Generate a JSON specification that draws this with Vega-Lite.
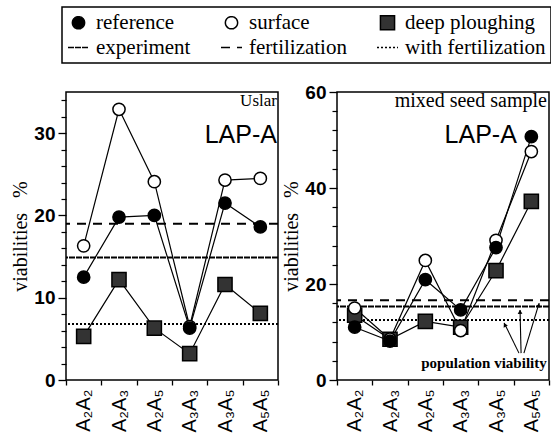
{
  "$schema": "https://vega.github.io/schema/vega-lite/v6.json",
  "autosize": {"type": "pad"},
  "padding": {"left": 10, "top": 6, "right": 0, "bottom": 0},
  "background": "white",
  "bounds": "flush",
  "spacing": 59,
  "config": {
    "font": "Liberation Serif",
    "view": {"stroke": "black", "strokeWidth": 1.5},
    "axis": {"labelColor": "black", "tickColor": "black", "titleColor": "black", "grid": false, "domain": false},
    "legend": {"labelColor": "black", "labelFont": "Liberation Serif", "labelFontSize": 21, "labelOffset": 6, "columnPadding": 27, "rowPadding": 3, "padding": 5, "strokeColor": "black", "symbolStrokeColor": "black"},
    "style": {"guide-label": {"font": "Liberation Serif"}}
  },
  "datasets": {
    "seriesL": [
      {"key": "deep ploughing", "genotype": "A₂A₂", "value": 5.3},
      {"key": "deep ploughing", "genotype": "A₂A₃", "value": 12.2},
      {"key": "deep ploughing", "genotype": "A₂A₅", "value": 6.3},
      {"key": "deep ploughing", "genotype": "A₃A₃", "value": 3.2},
      {"key": "deep ploughing", "genotype": "A₃A₅", "value": 11.6},
      {"key": "deep ploughing", "genotype": "A₅A₅", "value": 8.1},
      {"key": "surface", "genotype": "A₂A₂", "value": 16.3},
      {"key": "surface", "genotype": "A₂A₃", "value": 32.9},
      {"key": "surface", "genotype": "A₂A₅", "value": 24.1},
      {"key": "surface", "genotype": "A₃A₃", "value": 6.5},
      {"key": "surface", "genotype": "A₃A₅", "value": 24.3},
      {"key": "surface", "genotype": "A₅A₅", "value": 24.5},
      {"key": "reference", "genotype": "A₂A₂", "value": 12.5},
      {"key": "reference", "genotype": "A₂A₃", "value": 19.8},
      {"key": "reference", "genotype": "A₂A₅", "value": 20.0},
      {"key": "reference", "genotype": "A₃A₃", "value": 6.3},
      {"key": "reference", "genotype": "A₃A₅", "value": 21.5},
      {"key": "reference", "genotype": "A₅A₅", "value": 18.6}
    ],
    "hlinesL": [
      {"key": "experiment", "value": 14.9},
      {"key": "fertilization", "value": 19.0},
      {"key": "with fertilization", "value": 6.8}
    ],
    "seriesR": [
      {"key": "deep ploughing", "genotype": "A₂A₂", "value": 13.5},
      {"key": "deep ploughing", "genotype": "A₂A₃", "value": 8.5},
      {"key": "deep ploughing", "genotype": "A₂A₅", "value": 12.2},
      {"key": "deep ploughing", "genotype": "A₃A₃", "value": 11.0},
      {"key": "deep ploughing", "genotype": "A₃A₅", "value": 22.8},
      {"key": "deep ploughing", "genotype": "A₅A₅", "value": 37.2},
      {"key": "surface", "genotype": "A₂A₂", "value": 15.0},
      {"key": "surface", "genotype": "A₂A₃", "value": 8.5},
      {"key": "surface", "genotype": "A₂A₅", "value": 24.9},
      {"key": "surface", "genotype": "A₃A₃", "value": 10.3},
      {"key": "surface", "genotype": "A₃A₅", "value": 29.1},
      {"key": "surface", "genotype": "A₅A₅", "value": 47.6},
      {"key": "reference", "genotype": "A₂A₂", "value": 11.0},
      {"key": "reference", "genotype": "A₂A₃", "value": 8.1},
      {"key": "reference", "genotype": "A₂A₅", "value": 20.9},
      {"key": "reference", "genotype": "A₃A₃", "value": 14.6},
      {"key": "reference", "genotype": "A₃A₅", "value": 27.6},
      {"key": "reference", "genotype": "A₅A₅", "value": 50.7}
    ],
    "hlinesR": [
      {"key": "experiment", "value": 15.3},
      {"key": "fertilization", "value": 16.6},
      {"key": "with fertilization", "value": 12.5}
    ]
  },
  "hconcat": [
    {
      "width": 212,
      "height": 288,
      "layer": [
        {
          "data": {"name": "hlinesL"},
          "mark": {"type": "rule", "color": "black", "strokeWidth": 2},
          "encoding": {
            "y": {"field": "value", "type": "quantitative", "scale": {"domain": [0, 35], "nice": false},
              "axis": {"orient": "left", "values": [2,4,6,8,12,14,16,18,22,24,26,28,32,34], "tickSize": 5, "tickWidth": 1.2, "labels": false, "title": null}},
            "strokeDash": {"field": "key", "type": "nominal",
              "scale": {"domain": ["reference", "surface", "deep ploughing", "experiment", "fertilization", "with fertilization"],
                "range": [[1,0],[1,0],[1,0],[6,1],[9,7],[2,2]]},
              "legend": {"orient": "none", "legendX": -4, "legendY": -85, "columns": 3, "direction": "horizontal", "title": null,
                "labelFont": "Liberation Serif",
                "encode": {"legend": {"update": {"strokeWidth": {"value": 1.5}}}, "labels": {"update": {"font": {"value": "Liberation Serif"}}}}}}
          }
        },
        {
          "data": {"name": "seriesL"},
          "mark": {"type": "line", "color": "black", "strokeWidth": 1.2},
          "encoding": {
            "x": {"field": "genotype", "type": "nominal",
              "scale": {"type": "band", "domain": ["A₂A₂","A₂A₃","A₂A₅","A₃A₃","A₃A₅","A₅A₅"], "paddingInner": 0, "paddingOuter": 0},
              "axis": {"orient": "bottom", "tickBand": "extent", "tickSize": 5, "tickWidth": 1.3, "labelAngle": -90, "labelFont": "Liberation Sans", "labelFontSize": 20, "labelPadding": 4, "title": null}},
            "y": {"field": "value", "type": "quantitative", "scale": {"domain": [0, 35], "nice": false},
              "axis": {"orient": "left", "values": [0, 10, 20, 30], "tickSize": 8, "tickWidth": 1.3, "labelFont": "Liberation Sans", "labelFontSize": 19, "labelFontWeight": "bold", "labelPadding": 3,
                "title": "viabilities\u00a0\u00a0\u00a0%", "titleFont": "Liberation Serif", "titleFontSize": 20, "titleFontWeight": "normal", "titlePadding": 3}},
            "detail": {"field": "key", "type": "nominal"}
          }
        },
        {
          "data": {"name": "seriesL"},
          "mark": {"type": "point", "filled": true, "stroke": "black", "strokeWidth": 1.5, "opacity": 1},
          "encoding": {
            "x": {"field": "genotype", "type": "nominal",
              "scale": {"type": "band", "domain": ["A₂A₂","A₂A₃","A₂A₅","A₃A₃","A₃A₅","A₅A₅"], "paddingInner": 0, "paddingOuter": 0},
              "axis": null},
            "y": {"field": "value", "type": "quantitative", "scale": {"domain": [0, 35], "nice": false}, "axis": null},
            "shape": {"field": "key", "type": "nominal",
              "scale": {"domain": ["reference", "surface", "deep ploughing", "experiment", "fertilization", "with fertilization"],
                "range": ["circle", "circle", "square", "M-1,0H1", "M-1,0H1", "M-1,0H1"]},
              "legend": {"labelFont": "Liberation Serif"}},
            "fill": {"field": "key", "type": "nominal",
              "scale": {"domain": ["reference", "surface", "deep ploughing", "experiment", "fertilization", "with fertilization"],
                "range": ["black", "white", "#333333", "transparent", "transparent", "transparent"]},
              "legend": {"labelFont": "Liberation Serif"}},
            "size": {"field": "key", "type": "nominal",
              "scale": {"type": "ordinal", "domain": ["reference", "surface", "deep ploughing", "experiment", "fertilization", "with fertilization"],
                "range": [150, 150, 200, 441, 441, 441]},
              "legend": {"labelFont": "Liberation Serif"}}
          }
        },
        {
          "data": {"values": [{}]},
          "layer": [
            {
              "mark": {"type": "text", "align": "right", "baseline": "alphabetic", "font": "Liberation Serif", "fontSize": 17, "color": "black"},
              "encoding": {
                "x": {"datum": 5.97, "type": "quantitative", "scale": {"domain": [0, 6]}, "axis": null},
                "y": {"datum": 33.3, "type": "quantitative", "scale": {"domain": [0, 35], "nice": false}, "axis": null},
                "text": {"value": "Uslar"}
              }
            },
            {
              "mark": {"type": "text", "align": "right", "baseline": "alphabetic", "font": "Liberation Sans", "fontSize": 25, "color": "black"},
              "encoding": {
                "x": {"datum": 5.97, "type": "quantitative", "scale": {"domain": [0, 6]}, "axis": null},
                "y": {"datum": 28.8, "type": "quantitative", "scale": {"domain": [0, 35], "nice": false}, "axis": null},
                "text": {"value": "LAP-A"}
              }
            }
          ]
        }
      ],
      "resolve": {"scale": {"x": "independent"}, "axis": {"x": "independent", "y": "independent"}}
    },
    {
      "width": 212,
      "height": 288,
      "layer": [
        {
          "data": {"name": "hlinesR"},
          "mark": {"type": "rule", "color": "black", "strokeWidth": 2},
          "encoding": {
            "y": {"field": "value", "type": "quantitative", "scale": {"domain": [0, 60], "nice": false},
              "axis": {"orient": "left", "values": [4,8,12,16,24,28,32,36,44,48,52,56], "tickSize": 5, "tickWidth": 1.2, "labels": false, "title": null}},
            "strokeDash": {"field": "key", "type": "nominal",
              "scale": {"domain": ["reference", "surface", "deep ploughing", "experiment", "fertilization", "with fertilization"],
                "range": [[1,0],[1,0],[1,0],[6,1],[9,7],[2,2]]}}
          }
        },
        {
          "data": {"name": "seriesR"},
          "mark": {"type": "line", "color": "black", "strokeWidth": 1.2},
          "encoding": {
            "x": {"field": "genotype", "type": "nominal",
              "scale": {"type": "band", "domain": ["A₂A₂","A₂A₃","A₂A₅","A₃A₃","A₃A₅","A₅A₅"], "paddingInner": 0, "paddingOuter": 0},
              "axis": {"orient": "bottom", "tickBand": "extent", "tickSize": 5, "tickWidth": 1.3, "labelAngle": -90, "labelFont": "Liberation Sans", "labelFontSize": 20, "labelPadding": 4, "title": null}},
            "y": {"field": "value", "type": "quantitative", "scale": {"domain": [0, 60], "nice": false},
              "axis": {"orient": "left", "values": [0, 20, 40, 60], "tickSize": 8, "tickWidth": 1.3, "labelFont": "Liberation Sans", "labelFontSize": 19, "labelFontWeight": "bold", "labelPadding": 3,
                "title": "viabilities\u00a0\u00a0\u00a0%", "titleFont": "Liberation Serif", "titleFontSize": 20, "titleFontWeight": "normal", "titlePadding": 3}},
            "detail": {"field": "key", "type": "nominal"}
          }
        },
        {
          "data": {"name": "seriesR"},
          "mark": {"type": "point", "filled": true, "stroke": "black", "strokeWidth": 1.5, "opacity": 1},
          "encoding": {
            "x": {"field": "genotype", "type": "nominal",
              "scale": {"type": "band", "domain": ["A₂A₂","A₂A₃","A₂A₅","A₃A₃","A₃A₅","A₅A₅"], "paddingInner": 0, "paddingOuter": 0},
              "axis": null},
            "y": {"field": "value", "type": "quantitative", "scale": {"domain": [0, 60], "nice": false}, "axis": null},
            "shape": {"field": "key", "type": "nominal",
              "scale": {"domain": ["reference", "surface", "deep ploughing", "experiment", "fertilization", "with fertilization"],
                "range": ["circle", "circle", "square", "M-1,0H1", "M-1,0H1", "M-1,0H1"]}},
            "fill": {"field": "key", "type": "nominal",
              "scale": {"domain": ["reference", "surface", "deep ploughing", "experiment", "fertilization", "with fertilization"],
                "range": ["black", "white", "#333333", "transparent", "transparent", "transparent"]}},
            "size": {"field": "key", "type": "nominal",
              "scale": {"type": "ordinal", "domain": ["reference", "surface", "deep ploughing", "experiment", "fertilization", "with fertilization"],
                "range": [150, 150, 200, 441, 441, 441]}}
          }
        },
        {
          "data": {"values": [{}]},
          "layer": [
            {
              "mark": {"type": "text", "align": "right", "baseline": "alphabetic", "font": "Liberation Serif", "fontSize": 20, "color": "black"},
              "encoding": {
                "x": {"datum": 5.94, "type": "quantitative", "scale": {"domain": [0, 6]}, "axis": null},
                "y": {"datum": 56.9, "type": "quantitative", "scale": {"domain": [0, 60], "nice": false}, "axis": null},
                "text": {"value": "mixed seed sample"}
              }
            },
            {
              "mark": {"type": "text", "align": "right", "baseline": "alphabetic", "font": "Liberation Sans", "fontSize": 25, "color": "black"},
              "encoding": {
                "x": {"datum": 5.09, "type": "quantitative", "scale": {"domain": [0, 6]}, "axis": null},
                "y": {"datum": 49.4, "type": "quantitative", "scale": {"domain": [0, 60], "nice": false}, "axis": null},
                "text": {"value": "LAP-A"}
              }
            },
            {
              "mark": {"type": "text", "align": "center", "baseline": "alphabetic", "font": "Liberation Serif", "fontSize": 15, "fontWeight": "bold", "color": "black"},
              "encoding": {
                "x": {"datum": 4.16, "type": "quantitative", "scale": {"domain": [0, 6]}, "axis": null},
                "y": {"datum": 2.5, "type": "quantitative", "scale": {"domain": [0, 60], "nice": false}, "axis": null},
                "text": {"value": "population viability"}
              }
            },
            {
              "mark": {"type": "rule", "color": "black", "strokeWidth": 1.1},
              "encoding": {
                "x": {"datum": 5.15, "type": "quantitative", "scale": {"domain": [0, 6]}, "axis": null},
                "x2": {"datum": 4.73},
                "y": {"datum": 5.6, "type": "quantitative", "scale": {"domain": [0, 60], "nice": false}, "axis": null},
                "y2": {"datum": 11.9}
              }
            },
            {
              "mark": {"type": "rule", "color": "black", "strokeWidth": 1.1},
              "encoding": {
                "x": {"datum": 5.21, "type": "quantitative", "scale": {"domain": [0, 6]}, "axis": null},
                "x2": {"datum": 5.18},
                "y": {"datum": 5.6, "type": "quantitative", "scale": {"domain": [0, 60], "nice": false}, "axis": null},
                "y2": {"datum": 14.6}
              }
            },
            {
              "mark": {"type": "rule", "color": "black", "strokeWidth": 1.1},
              "encoding": {
                "x": {"datum": 5.29, "type": "quantitative", "scale": {"domain": [0, 6]}, "axis": null},
                "x2": {"datum": 5.72},
                "y": {"datum": 5.6, "type": "quantitative", "scale": {"domain": [0, 60], "nice": false}, "axis": null},
                "y2": {"datum": 16.0}
              }
            },
            {
              "mark": {"type": "point", "shape": "triangle-up", "filled": true, "color": "black", "size": 22, "opacity": 1, "angle": 334},
              "encoding": {
                "x": {"datum": 4.75, "type": "quantitative", "scale": {"domain": [0, 6]}, "axis": null},
                "y": {"datum": 11.5, "type": "quantitative", "scale": {"domain": [0, 60], "nice": false}, "axis": null}
              }
            },
            {
              "mark": {"type": "point", "shape": "triangle-up", "filled": true, "color": "black", "size": 22, "opacity": 1, "angle": 359},
              "encoding": {
                "x": {"datum": 5.18, "type": "quantitative", "scale": {"domain": [0, 6]}, "axis": null},
                "y": {"datum": 14.2, "type": "quantitative", "scale": {"domain": [0, 60], "nice": false}, "axis": null}
              }
            },
            {
              "mark": {"type": "point", "shape": "triangle-up", "filled": true, "color": "black", "size": 22, "opacity": 1, "angle": 17},
              "encoding": {
                "x": {"datum": 5.71, "type": "quantitative", "scale": {"domain": [0, 6]}, "axis": null},
                "y": {"datum": 15.6, "type": "quantitative", "scale": {"domain": [0, 60], "nice": false}, "axis": null}
              }
            }
          ]
        }
      ],
      "resolve": {"scale": {"x": "independent"}, "axis": {"x": "independent", "y": "independent"}}
    }
  ]
}
